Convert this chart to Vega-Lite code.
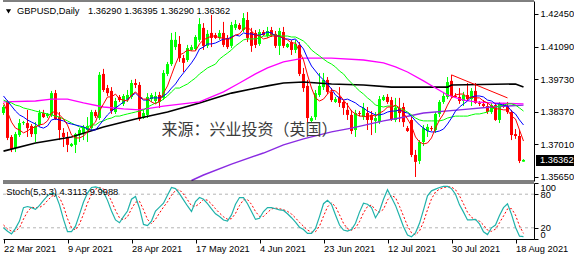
{
"$schema":"https://vega.github.io/schema/vega-lite/v6.json",
"width":531,"height":239,"padding":0,"background":"white",
"config":{"view":{"stroke":null},"font":"Liberation Sans","axis":{"labelFont":"Liberation Sans","labelFontSize":9.3,"labelColor":"#000000","tickColor":"#000000","domainColor":"#000000","grid":false,"title":null}},
"datasets":{
"bars":[
{"i":0,"o":1.3832,"h":1.3865,"l":1.3824,"c":1.3857,"m5":1.3874,"m10":1.3903,"m20":1.3886,"k":20,"d":25},
{"i":1,"o":1.3878,"h":1.3886,"l":1.3719,"c":1.3728,"m5":1.3836,"m10":1.3882,"m20":1.3878,"k":14,"d":18},
{"i":2,"o":1.3732,"h":1.3740,"l":1.3669,"c":1.3682,"m5":1.3794,"m10":1.3861,"m20":1.3874,"k":9,"d":14},
{"i":3,"o":1.3686,"h":1.3753,"l":1.3669,"c":1.3744,"m5":1.3769,"m10":1.3840,"m20":1.3865,"k":19,"d":14},
{"i":4,"o":1.3740,"h":1.3807,"l":1.3732,"c":1.3790,"m5":1.3761,"m10":1.3824,"m20":1.3861,"k":32,"d":20},
{"i":5,"o":1.3790,"h":1.3799,"l":1.3782,"c":1.3794,"m5":1.3749,"m10":1.3815,"m20":1.3853,"k":56,"d":35.7},
{"i":6,"o":1.3790,"h":1.3845,"l":1.3732,"c":1.3769,"m5":1.3757,"m10":1.3803,"m20":1.3849,"k":58,"d":48.7},
{"i":7,"o":1.3778,"h":1.3786,"l":1.3732,"c":1.3744,"m5":1.3769,"m10":1.3794,"m20":1.3845,"k":56,"d":56.7},
{"i":8,"o":1.3744,"h":1.3794,"l":1.3711,"c":1.3778,"m5":1.3774,"m10":1.3786,"m20":1.3840,"k":53,"d":55.7},
{"i":9,"o":1.3782,"h":1.3845,"l":1.3774,"c":1.3832,"m5":1.3782,"m10":1.3774,"m20":1.3836,"k":60,"d":56.3},
{"i":10,"o":1.3832,"h":1.3845,"l":1.3811,"c":1.3815,"m5":1.3786,"m10":1.3769,"m20":1.3832,"k":69,"d":60.7},
{"i":11,"o":1.3819,"h":1.3832,"l":1.3811,"c":1.3828,"m5":1.3799,"m10":1.3778,"m20":1.3828,"k":77,"d":68.7},
{"i":12,"o":1.3824,"h":1.3924,"l":1.3815,"c":1.3915,"m5":1.3832,"m10":1.3803,"m20":1.3824,"k":82,"d":76},
{"i":13,"o":1.3915,"h":1.3928,"l":1.3803,"c":1.3807,"m5":1.3840,"m10":1.3807,"m20":1.3819,"k":80,"d":79.7},
{"i":14,"o":1.3815,"h":1.3836,"l":1.3719,"c":1.3761,"m5":1.3824,"m10":1.3803,"m20":1.3815,"k":61,"d":74.3},
{"i":15,"o":1.3749,"h":1.3769,"l":1.3690,"c":1.3732,"m5":1.3807,"m10":1.3799,"m20":1.3807,"k":35,"d":58.7},
{"i":16,"o":1.3732,"h":1.3753,"l":1.3669,"c":1.3699,"m5":1.3782,"m10":1.3790,"m20":1.3799,"k":13,"d":36.3},
{"i":17,"o":1.3694,"h":1.3707,"l":1.3690,"c":1.3703,"m5":1.3740,"m10":1.3786,"m20":1.3790,"k":13,"d":20.3},
{"i":18,"o":1.3699,"h":1.3749,"l":1.3665,"c":1.3744,"m5":1.3728,"m10":1.3782,"m20":1.3782,"k":23,"d":16.3},
{"i":19,"o":1.3740,"h":1.3769,"l":1.3711,"c":1.3761,"m5":1.3728,"m10":1.3778,"m20":1.3774,"k":44,"d":26.7},
{"i":20,"o":1.3749,"h":1.3782,"l":1.3719,"c":1.3774,"m5":1.3736,"m10":1.3774,"m20":1.3769,"k":66,"d":44.3},
{"i":21,"o":1.3761,"h":1.3815,"l":1.3711,"c":1.3778,"m5":1.3753,"m10":1.3765,"m20":1.3774,"k":82,"d":64},
{"i":22,"o":1.3769,"h":1.3845,"l":1.3757,"c":1.3836,"m5":1.3778,"m10":1.3761,"m20":1.3782,"k":92,"d":80},
{"i":23,"o":1.3836,"h":1.3845,"l":1.3811,"c":1.3819,"m5":1.3794,"m10":1.3761,"m20":1.3782,"k":93,"d":89},
{"i":24,"o":1.3811,"h":1.4003,"l":1.3803,"c":1.3991,"m5":1.3840,"m10":1.3782,"m20":1.3794,"k":91,"d":92},
{"i":25,"o":1.3995,"h":1.4016,"l":1.3920,"c":1.3928,"m5":1.3870,"m10":1.3803,"m20":1.3799,"k":84,"d":89.3},
{"i":26,"o":1.3936,"h":1.3949,"l":1.3903,"c":1.3915,"m5":1.3899,"m10":1.3824,"m20":1.3807,"k":69,"d":81.3},
{"i":27,"o":1.3924,"h":1.3940,"l":1.3828,"c":1.3840,"m5":1.3899,"m10":1.3840,"m20":1.3811,"k":50,"d":67.7},
{"i":28,"o":1.3836,"h":1.3895,"l":1.3828,"c":1.3882,"m5":1.3911,"m10":1.3853,"m20":1.3819,"k":34,"d":51},
{"i":29,"o":1.3899,"h":1.3907,"l":1.3878,"c":1.3886,"m5":1.3890,"m10":1.3865,"m20":1.3819,"k":29,"d":37.7},
{"i":30,"o":1.3870,"h":1.3911,"l":1.3861,"c":1.3903,"m5":1.3886,"m10":1.3878,"m20":1.3824,"k":40,"d":34.3},
{"i":31,"o":1.3890,"h":1.3928,"l":1.3878,"c":1.3907,"m5":1.3882,"m10":1.3890,"m20":1.3828,"k":50,"d":39.7},
{"i":32,"o":1.3899,"h":1.3970,"l":1.3890,"c":1.3957,"m5":1.3907,"m10":1.3903,"m20":1.3832,"k":71,"d":53.7},
{"i":33,"o":1.3957,"h":1.3974,"l":1.3936,"c":1.3949,"m5":1.3920,"m10":1.3915,"m20":1.3836,"k":76,"d":65.7},
{"i":34,"o":1.3949,"h":1.3961,"l":1.3799,"c":1.3807,"m5":1.3903,"m10":1.3899,"m20":1.3840,"k":55,"d":67.3},
{"i":35,"o":1.3811,"h":1.3845,"l":1.3807,"c":1.3832,"m5":1.3890,"m10":1.3886,"m20":1.3845,"k":26,"d":52.3},
{"i":36,"o":1.3824,"h":1.3915,"l":1.3811,"c":1.3899,"m5":1.3890,"m10":1.3886,"m20":1.3857,"k":24,"d":35},
{"i":37,"o":1.3890,"h":1.3915,"l":1.3878,"c":1.3907,"m5":1.3878,"m10":1.3895,"m20":1.3865,"k":32,"d":27.3},
{"i":38,"o":1.3882,"h":1.3920,"l":1.3870,"c":1.3903,"m5":1.3870,"m10":1.3895,"m20":1.3874,"k":50,"d":35.3},
{"i":39,"o":1.3907,"h":1.3920,"l":1.3853,"c":1.3878,"m5":1.3882,"m10":1.3895,"m20":1.3878,"k":57,"d":46.3},
{"i":40,"o":1.3895,"h":1.4011,"l":1.3886,"c":1.3999,"m5":1.3915,"m10":1.3903,"m20":1.3890,"k":64,"d":57},
{"i":41,"o":1.3995,"h":1.4045,"l":1.3986,"c":1.4036,"m5":1.3945,"m10":1.3915,"m20":1.3903,"k":78,"d":66.3},
{"i":42,"o":1.4036,"h":1.4166,"l":1.4028,"c":1.4137,"m5":1.3991,"m10":1.3936,"m20":1.3920,"k":92,"d":78},
{"i":43,"o":1.4107,"h":1.4170,"l":1.4095,"c":1.4137,"m5":1.4036,"m10":1.3953,"m20":1.3936,"k":90,"d":86.7},
{"i":44,"o":1.4120,"h":1.4153,"l":1.4045,"c":1.4061,"m5":1.4074,"m10":1.3978,"m20":1.3936,"k":81,"d":87.7},
{"i":45,"o":1.4061,"h":1.4074,"l":1.4003,"c":1.4041,"m5":1.4082,"m10":1.3999,"m20":1.3945,"k":70,"d":80.3},
{"i":46,"o":1.4053,"h":1.4116,"l":1.4045,"c":1.4103,"m5":1.4095,"m10":1.4020,"m20":1.3953,"k":59,"d":70},
{"i":47,"o":1.4095,"h":1.4116,"l":1.4091,"c":1.4107,"m5":1.4091,"m10":1.4041,"m20":1.3966,"k":49,"d":59.3},
{"i":48,"o":1.4099,"h":1.4157,"l":1.4091,"c":1.4149,"m5":1.4091,"m10":1.4066,"m20":1.3978,"k":67,"d":58.3},
{"i":49,"o":1.4137,"h":1.4228,"l":1.4128,"c":1.4203,"m5":1.4120,"m10":1.4099,"m20":1.3995,"k":74,"d":63.3},
{"i":50,"o":1.4187,"h":1.4207,"l":1.4095,"c":1.4112,"m5":1.4137,"m10":1.4107,"m20":1.4007,"k":71,"d":70.7},
{"i":51,"o":1.4112,"h":1.4178,"l":1.4103,"c":1.4162,"m5":1.4145,"m10":1.4120,"m20":1.4020,"k":63,"d":69.3},
{"i":52,"o":1.4166,"h":1.4241,"l":1.4107,"c":1.4145,"m5":1.4153,"m10":1.4120,"m20":1.4028,"k":54,"d":62.7},
{"i":53,"o":1.4157,"h":1.4166,"l":1.4141,"c":1.4145,"m5":1.4153,"m10":1.4124,"m20":1.4036,"k":45,"d":54},
{"i":54,"o":1.4145,"h":1.4178,"l":1.4137,"c":1.4166,"m5":1.4145,"m10":1.4132,"m20":1.4057,"k":40,"d":46.3},
{"i":55,"o":1.4166,"h":1.4212,"l":1.4107,"c":1.4116,"m5":1.4145,"m10":1.4141,"m20":1.4070,"k":34,"d":39.7},
{"i":56,"o":1.4145,"h":1.4157,"l":1.4099,"c":1.4107,"m5":1.4137,"m10":1.4141,"m20":1.4082,"k":32,"d":35.3},
{"i":57,"o":1.4112,"h":1.4212,"l":1.4103,"c":1.4199,"m5":1.4145,"m10":1.4149,"m20":1.4095,"k":43,"d":36.3},
{"i":58,"o":1.4187,"h":1.4220,"l":1.4178,"c":1.4203,"m5":1.4157,"m10":1.4157,"m20":1.4112,"k":62,"d":45.7},
{"i":59,"o":1.4199,"h":1.4207,"l":1.4178,"c":1.4182,"m5":1.4162,"m10":1.4153,"m20":1.4124,"k":74,"d":59.7},
{"i":60,"o":1.4178,"h":1.4249,"l":1.4170,"c":1.4228,"m5":1.4182,"m10":1.4166,"m20":1.4137,"k":74,"d":70},
{"i":61,"o":1.4220,"h":1.4253,"l":1.4128,"c":1.4145,"m5":1.4191,"m10":1.4162,"m20":1.4141,"k":63,"d":70.3},
{"i":62,"o":1.4170,"h":1.4187,"l":1.4087,"c":1.4112,"m5":1.4174,"m10":1.4162,"m20":1.4141,"k":49,"d":62},
{"i":63,"o":1.4166,"h":1.4178,"l":1.4103,"c":1.4116,"m5":1.4157,"m10":1.4157,"m20":1.4141,"k":35,"d":49},
{"i":64,"o":1.4120,"h":1.4182,"l":1.4112,"c":1.4170,"m5":1.4153,"m10":1.4157,"m20":1.4145,"k":37,"d":40.3},
{"i":65,"o":1.4170,"h":1.4178,"l":1.4153,"c":1.4157,"m5":1.4141,"m10":1.4162,"m20":1.4153,"k":49,"d":40.3},
{"i":66,"o":1.4153,"h":1.4191,"l":1.4145,"c":1.4174,"m5":1.4145,"m10":1.4170,"m20":1.4153,"k":56,"d":47.3},
{"i":67,"o":1.4178,"h":1.4191,"l":1.4149,"c":1.4157,"m5":1.4153,"m10":1.4166,"m20":1.4157,"k":56,"d":53.7},
{"i":68,"o":1.4162,"h":1.4174,"l":1.4103,"c":1.4112,"m5":1.4153,"m10":1.4153,"m20":1.4157,"k":54,"d":55.3},
{"i":69,"o":1.4112,"h":1.4187,"l":1.4074,"c":1.4174,"m5":1.4153,"m10":1.4153,"m20":1.4153,"k":52,"d":54},
{"i":70,"o":1.4170,"h":1.4191,"l":1.4103,"c":1.4112,"m5":1.4145,"m10":1.4141,"m20":1.4153,"k":51,"d":52.3},
{"i":71,"o":1.4107,"h":1.4124,"l":1.4103,"c":1.4120,"m5":1.4137,"m10":1.4141,"m20":1.4153,"k":45,"d":49.3},
{"i":72,"o":1.4128,"h":1.4137,"l":1.4074,"c":1.4095,"m5":1.4124,"m10":1.4137,"m20":1.4149,"k":38,"d":44.7},
{"i":73,"o":1.4095,"h":1.4137,"l":1.4082,"c":1.4120,"m5":1.4124,"m10":1.4141,"m20":1.4149,"k":30,"d":37.7},
{"i":74,"o":1.4116,"h":1.4128,"l":1.3986,"c":1.3995,"m5":1.4087,"m10":1.4120,"m20":1.4141,"k":21,"d":29.7},
{"i":75,"o":1.3995,"h":1.4020,"l":1.3920,"c":1.3936,"m5":1.4053,"m10":1.4099,"m20":1.4132,"k":17,"d":22.7},
{"i":76,"o":1.3945,"h":1.3970,"l":1.3794,"c":1.3811,"m5":1.3991,"m10":1.4061,"m20":1.4116,"k":10,"d":16},
{"i":77,"o":1.3799,"h":1.3819,"l":1.3790,"c":1.3811,"m5":1.3936,"m10":1.4028,"m20":1.4095,"k":10,"d":12.3},
{"i":78,"o":1.3815,"h":1.3928,"l":1.3803,"c":1.3915,"m5":1.3895,"m10":1.4007,"m20":1.4082,"k":19,"d":13},
{"i":79,"o":1.3907,"h":1.3999,"l":1.3899,"c":1.3945,"m5":1.3882,"m10":1.3986,"m20":1.4070,"k":40,"d":23},
{"i":80,"o":1.3940,"h":1.3999,"l":1.3928,"c":1.3970,"m5":1.3890,"m10":1.3970,"m20":1.4057,"k":63,"d":40.7},
{"i":81,"o":1.3970,"h":1.3982,"l":1.3911,"c":1.3920,"m5":1.3911,"m10":1.3953,"m20":1.4045,"k":69,"d":57.3},
{"i":82,"o":1.3920,"h":1.3936,"l":1.3878,"c":1.3886,"m5":1.3928,"m10":1.3932,"m20":1.4036,"k":62,"d":64.7},
{"i":83,"o":1.3878,"h":1.3899,"l":1.3874,"c":1.3890,"m5":1.3924,"m10":1.3907,"m20":1.4024,"k":43,"d":58},
{"i":84,"o":1.3899,"h":1.3940,"l":1.3857,"c":1.3874,"m5":1.3907,"m10":1.3895,"m20":1.4007,"k":25,"d":43.3},
{"i":85,"o":1.3878,"h":1.3886,"l":1.3824,"c":1.3853,"m5":1.3886,"m10":1.3886,"m20":1.3995,"k":16,"d":28},
{"i":86,"o":1.3845,"h":1.3874,"l":1.3803,"c":1.3824,"m5":1.3865,"m10":1.3890,"m20":1.3974,"k":14,"d":18.3},
{"i":87,"o":1.3824,"h":1.3845,"l":1.3744,"c":1.3757,"m5":1.3840,"m10":1.3882,"m20":1.3957,"k":17,"d":15.7},
{"i":88,"o":1.3761,"h":1.3845,"l":1.3732,"c":1.3832,"m5":1.3828,"m10":1.3874,"m20":1.3940,"k":28,"d":19.7},
{"i":89,"o":1.3832,"h":1.3840,"l":1.3819,"c":1.3828,"m5":1.3819,"m10":1.3861,"m20":1.3924,"k":48,"d":31},
{"i":90,"o":1.3815,"h":1.3874,"l":1.3803,"c":1.3853,"m5":1.3819,"m10":1.3853,"m20":1.3911,"k":64,"d":46.7},
{"i":91,"o":1.3832,"h":1.3857,"l":1.3761,"c":1.3803,"m5":1.3815,"m10":1.3840,"m20":1.3895,"k":62,"d":58},
{"i":92,"o":1.3824,"h":1.3840,"l":1.3740,"c":1.3803,"m5":1.3824,"m10":1.3832,"m20":1.3882,"k":56,"d":60.7},
{"i":93,"o":1.3799,"h":1.3836,"l":1.3749,"c":1.3811,"m5":1.3819,"m10":1.3824,"m20":1.3865,"k":38,"d":52},
{"i":94,"o":1.3794,"h":1.3903,"l":1.3786,"c":1.3890,"m5":1.3832,"m10":1.3824,"m20":1.3861,"k":50,"d":48},
{"i":95,"o":1.3886,"h":1.3907,"l":1.3882,"c":1.3899,"m5":1.3840,"m10":1.3828,"m20":1.3857,"k":71,"d":53},
{"i":96,"o":1.3899,"h":1.3911,"l":1.3870,"c":1.3878,"m5":1.3857,"m10":1.3836,"m20":1.3861,"k":88,"d":69.7},
{"i":97,"o":1.3886,"h":1.3899,"l":1.3799,"c":1.3807,"m5":1.3857,"m10":1.3840,"m20":1.3861,"k":74,"d":77.7},
{"i":98,"o":1.3803,"h":1.3895,"l":1.3794,"c":1.3853,"m5":1.3865,"m10":1.3840,"m20":1.3857,"k":60,"d":74},
{"i":99,"o":1.3853,"h":1.3895,"l":1.3794,"c":1.3832,"m5":1.3853,"m10":1.3845,"m20":1.3853,"k":41,"d":58.3},
{"i":100,"o":1.3857,"h":1.3874,"l":1.3774,"c":1.3794,"m5":1.3832,"m10":1.3836,"m20":1.3845,"k":22,"d":41},
{"i":101,"o":1.3769,"h":1.3778,"l":1.3753,"c":1.3757,"m5":1.3807,"m10":1.3832,"m20":1.3836,"k":7,"d":23.3},
{"i":102,"o":1.3803,"h":1.3815,"l":1.3648,"c":1.3657,"m5":1.3778,"m10":1.3819,"m20":1.3824,"k":4,"d":11},
{"i":103,"o":1.3657,"h":1.3678,"l":1.3565,"c":1.3628,"m5":1.3732,"m10":1.3799,"m20":1.3811,"k":11,"d":7.3},
{"i":104,"o":1.3632,"h":1.3719,"l":1.3619,"c":1.3711,"m5":1.3711,"m10":1.3782,"m20":1.3803,"k":28,"d":14.3},
{"i":105,"o":1.3711,"h":1.3782,"l":1.3694,"c":1.3769,"m5":1.3703,"m10":1.3769,"m20":1.3799,"k":52,"d":30.3},
{"i":106,"o":1.3757,"h":1.3786,"l":1.3732,"c":1.3774,"m5":1.3707,"m10":1.3757,"m20":1.3799,"k":77,"d":52.3},
{"i":107,"o":1.3769,"h":1.3778,"l":1.3757,"c":1.3765,"m5":1.3728,"m10":1.3753,"m20":1.3799,"k":86,"d":71.7},
{"i":108,"o":1.3761,"h":1.3836,"l":1.3749,"c":1.3828,"m5":1.3769,"m10":1.3753,"m20":1.3799,"k":89,"d":84},
{"i":109,"o":1.3828,"h":1.3886,"l":1.3815,"c":1.3878,"m5":1.3803,"m10":1.3757,"m20":1.3799,"k":92,"d":89},
{"i":110,"o":1.3878,"h":1.3920,"l":1.3870,"c":1.3903,"m5":1.3828,"m10":1.3765,"m20":1.3803,"k":94,"d":91.7},
{"i":111,"o":1.3899,"h":1.3982,"l":1.3890,"c":1.3961,"m5":1.3865,"m10":1.3786,"m20":1.3811,"k":94,"d":93.3},
{"i":112,"o":1.3966,"h":1.3991,"l":1.3895,"c":1.3903,"m5":1.3895,"m10":1.3811,"m20":1.3815,"k":90,"d":92.7},
{"i":113,"o":1.3903,"h":1.3915,"l":1.3895,"c":1.3899,"m5":1.3907,"m10":1.3840,"m20":1.3819,"k":80,"d":88},
{"i":114,"o":1.3899,"h":1.3936,"l":1.3870,"c":1.3882,"m5":1.3911,"m10":1.3857,"m20":1.3819,"k":61,"d":77},
{"i":115,"o":1.3882,"h":1.3920,"l":1.3861,"c":1.3907,"m5":1.3911,"m10":1.3870,"m20":1.3819,"k":48,"d":63},
{"i":116,"o":1.3907,"h":1.3957,"l":1.3886,"c":1.3890,"m5":1.3895,"m10":1.3882,"m20":1.3819,"k":34,"d":47.7},
{"i":117,"o":1.3890,"h":1.3936,"l":1.3861,"c":1.3924,"m5":1.3899,"m10":1.3899,"m20":1.3824,"k":34,"d":38.7},
{"i":118,"o":1.3924,"h":1.3957,"l":1.3870,"c":1.3874,"m5":1.3895,"m10":1.3903,"m20":1.3828,"k":35,"d":34.3},
{"i":119,"o":1.3874,"h":1.3882,"l":1.3861,"c":1.3870,"m5":1.3895,"m10":1.3903,"m20":1.3828,"k":27,"d":32},
{"i":120,"o":1.3870,"h":1.3886,"l":1.3853,"c":1.3861,"m5":1.3882,"m10":1.3899,"m20":1.3832,"k":13,"d":25},
{"i":121,"o":1.3861,"h":1.3878,"l":1.3828,"c":1.3836,"m5":1.3874,"m10":1.3886,"m20":1.3836,"k":8,"d":16},
{"i":122,"o":1.3836,"h":1.3874,"l":1.3828,"c":1.3865,"m5":1.3861,"m10":1.3882,"m20":1.3845,"k":20,"d":13.7},
{"i":123,"o":1.3865,"h":1.3874,"l":1.3799,"c":1.3803,"m5":1.3849,"m10":1.3870,"m20":1.3857,"k":25,"d":17.7},
{"i":124,"o":1.3803,"h":1.3878,"l":1.3790,"c":1.3870,"m5":1.3849,"m10":1.3870,"m20":1.3861,"k":42,"d":29},
{"i":125,"o":1.3865,"h":1.3874,"l":1.3853,"c":1.3857,"m5":1.3845,"m10":1.3865,"m20":1.3865,"k":56,"d":41},
{"i":126,"o":1.3861,"h":1.3878,"l":1.3828,"c":1.3836,"m5":1.3845,"m10":1.3861,"m20":1.3870,"k":63,"d":53.7},
{"i":127,"o":1.3836,"h":1.3845,"l":1.3719,"c":1.3740,"m5":1.3819,"m10":1.3840,"m20":1.3870,"k":44,"d":54.3},
{"i":128,"o":1.3744,"h":1.3765,"l":1.3724,"c":1.3736,"m5":1.3807,"m10":1.3828,"m20":1.3865,"k":21,"d":42.7},
{"i":129,"o":1.3736,"h":1.3761,"l":1.3623,"c":1.3632,"m5":1.3761,"m10":1.3803,"m20":1.3853,"k":5,"d":23.3},
{"i":130,"o":1.3629,"h":1.36395,"l":1.3629,"c":1.36362,"m5":1.3715,"m10":1.3782,"m20":1.3840,"k":4.3113,"d":9.9988}
],
"ma60":[
{"i":0,"v":1.3878},{"i":8,"v":1.3882},{"i":12,"v":1.3890},{"i":16,"v":1.3890},{"i":20,"v":1.3874},{"i":25,"v":1.3857},{"i":30,"v":1.3849},{"i":34,"v":1.3845},{"i":40,"v":1.3861},{"i":49,"v":1.3878},{"i":55,"v":1.3920},{"i":59,"v":1.3957},{"i":63,"v":1.3995},{"i":66,"v":1.4020},{"i":70,"v":1.4045},{"i":75,"v":1.4061},{"i":82,"v":1.4061},{"i":90,"v":1.4053},{"i":95,"v":1.4041},{"i":98,"v":1.4024},{"i":101,"v":1.4003},{"i":105,"v":1.3966},{"i":108,"v":1.3936},{"i":111,"v":1.3907},{"i":115,"v":1.3886},{"i":118,"v":1.3878},{"i":122,"v":1.3874},{"i":130,"v":1.3870}
],
"ma120":[
{"i":0,"v":1.3673},{"i":8,"v":1.3707},{"i":17,"v":1.3732},{"i":25,"v":1.3774},{"i":33,"v":1.3807},{"i":41,"v":1.3836},{"i":49,"v":1.3874},{"i":57,"v":1.3915},{"i":62,"v":1.3932},{"i":66,"v":1.3945},{"i":70,"v":1.3957},{"i":75,"v":1.3961},{"i":82,"v":1.3953},{"i":90,"v":1.3949},{"i":97,"v":1.3940},{"i":111,"v":1.3940},{"i":112,"v":1.3949},{"i":128,"v":1.3953},{"i":130,"v":1.3940}
],
"ma200":[
{"i":47,"v":1.35504},{"i":50,"v":1.35733},{"i":57,"v":1.3619},{"i":65,"v":1.3665},{"i":70,"v":1.3699},{"i":75,"v":1.3724},{"i":82,"v":1.3753},{"i":87,"v":1.3769},{"i":95,"v":1.3799},{"i":99,"v":1.3811},{"i":105,"v":1.3832},{"i":114,"v":1.3845},{"i":122,"v":1.3857},{"i":130,"v":1.3865}
],
"trend":[{"i":112,"v":1.3991},{"i":126,"v":1.3895}],
"levels":[{"v":20},{"v":80}]
},
"layer":[
{"layer":[
{"data":{"name":"bars"},"mark":{"type":"rule","strokeWidth":1},
 "encoding":{"x":{"field":"i","type":"quantitative","title":null,"scale":{"domain":[-0.125,132.625],"nice":false,"zero":false},
  "axis":{"orient":"bottom","values":[0,16,32,48,64,80,96,112,128],"labelExpr":"datum.value == 0 ? '22 Mar 2021' : datum.value == 16 ? '9 Apr 2021' : datum.value == 32 ? '28 Apr 2021' : datum.value == 48 ? '17 May 2021' : datum.value == 64 ? '4 Jun 2021' : datum.value == 80 ? '23 Jun 2021' : datum.value == 96 ? '12 Jul 2021' : datum.value == 112 ? '30 Jul 2021' : '18 Aug 2021'","labelAlign":"left","labelBaseline":"top","labelPadding":1,"tickSize":4,"domain":true,"title":null,"labelOverlap":false,"labelFlush":false,"labelBound":false}},
 "y":{"field":"l","type":"quantitative","title":null,"scale":{"domain":[1.35483,1.42992],"range":[181,1],"nice":false,"zero":false},
  "axis":{"orient":"right","values":[1.3565,1.3701,1.3837,1.3973,1.4109,1.4245],"format":".5f","tickSize":4,"labelPadding":2,"domain":true,"title":null,"labelOverlap":false,"labelBound":false,"labelFlush":false}},
 "y2":{"field":"h"},
 "color":{"condition":{"test":"datum.c >= datum.o","value":"#00ff00"},"value":"#ff0000"}}},
{"data":{"name":"bars"},"mark":{"type":"rule","strokeWidth":3},
 "encoding":{"x":{"field":"i","type":"quantitative","title":null,"scale":{"domain":[-0.125,132.625],"nice":false,"zero":false}},
 "y":{"field":"o","type":"quantitative","title":null,"scale":{"domain":[1.35483,1.42992],"range":[181,1],"nice":false,"zero":false}},
 "y2":{"field":"c"},
 "color":{"condition":{"test":"datum.c >= datum.o","value":"#00ff00"},"value":"#ff0000"}}},
{"data":{"name":"ma200"},"mark":{"type":"line","color":"#8a2be2","strokeWidth":1.4},
 "encoding":{"x":{"field":"i","type":"quantitative","title":null,"scale":{"domain":[-0.125,132.625],"nice":false,"zero":false}},
 "y":{"field":"v","type":"quantitative","title":null,"scale":{"domain":[1.35483,1.42992],"range":[181,1],"nice":false,"zero":false}}}},
{"data":{"name":"ma120"},"mark":{"type":"line","color":"#000000","strokeWidth":1.6},
 "encoding":{"x":{"field":"i","type":"quantitative","title":null,"scale":{"domain":[-0.125,132.625],"nice":false,"zero":false}},
 "y":{"field":"v","type":"quantitative","title":null,"scale":{"domain":[1.35483,1.42992],"range":[181,1],"nice":false,"zero":false}}}},
{"data":{"name":"ma60"},"mark":{"type":"line","color":"#ff00ff","strokeWidth":1.3},
 "encoding":{"x":{"field":"i","type":"quantitative","title":null,"scale":{"domain":[-0.125,132.625],"nice":false,"zero":false}},
 "y":{"field":"v","type":"quantitative","title":null,"scale":{"domain":[1.35483,1.42992],"range":[181,1],"nice":false,"zero":false}}}},
{"data":{"name":"bars"},"mark":{"type":"line","color":"#00ff00","strokeWidth":1},
 "encoding":{"x":{"field":"i","type":"quantitative","title":null,"scale":{"domain":[-0.125,132.625],"nice":false,"zero":false}},
 "y":{"field":"m20","type":"quantitative","title":null,"scale":{"domain":[1.35483,1.42992],"range":[181,1],"nice":false,"zero":false}}}},
{"data":{"name":"bars"},"mark":{"type":"line","color":"#0000ff","strokeWidth":1},
 "encoding":{"x":{"field":"i","type":"quantitative","title":null,"scale":{"domain":[-0.125,132.625],"nice":false,"zero":false}},
 "y":{"field":"m10","type":"quantitative","title":null,"scale":{"domain":[1.35483,1.42992],"range":[181,1],"nice":false,"zero":false}}}},
{"data":{"name":"bars"},"mark":{"type":"line","color":"#ff0000","strokeWidth":1},
 "encoding":{"x":{"field":"i","type":"quantitative","title":null,"scale":{"domain":[-0.125,132.625],"nice":false,"zero":false}},
 "y":{"field":"m5","type":"quantitative","title":null,"scale":{"domain":[1.35483,1.42992],"range":[181,1],"nice":false,"zero":false}}}},
{"data":{"name":"trend"},"mark":{"type":"line","color":"#ff0000","strokeWidth":1},
 "encoding":{"x":{"field":"i","type":"quantitative","title":null,"scale":{"domain":[-0.125,132.625],"nice":false,"zero":false}},
 "y":{"field":"v","type":"quantitative","title":null,"scale":{"domain":[1.35483,1.42992],"range":[181,1],"nice":false,"zero":false}}}},
{"data":{"values":[{}]},"mark":{"type":"rule","color":"#000000","strokeWidth":1},
 "encoding":{"y":{"datum":1.42992,"type":"quantitative","title":null}}},
{"data":{"values":[{}]},"mark":{"type":"rule","color":"#000000","strokeWidth":1},
 "encoding":{"y":{"datum":1.35483,"type":"quantitative","title":null}}},
{"data":{"values":[{}]},"mark":{"type":"point","shape":"triangle-down","filled":true,"color":"#000000","size":26,"opacity":1},
 "encoding":{"x":{"datum":1.25,"type":"quantitative","title":null},"y":{"datum":1.4256,"type":"quantitative","title":null}}},
{"data":{"values":[{}]},"mark":{"type":"text","align":"left","baseline":"middle","fontSize":9.3,"color":"#000000","font":"Liberation Sans"},
 "encoding":{"x":{"datum":3.375,"type":"quantitative","title":null},"y":{"datum":1.42575,"type":"quantitative","title":null},"text":{"value":"GBPUSD,Daily"}}},
{"data":{"values":[{}]},"mark":{"type":"text","align":"left","baseline":"middle","fontSize":9.3,"color":"#000000","font":"Liberation Sans"},
 "encoding":{"x":{"datum":21.125,"type":"quantitative","title":null},"y":{"datum":1.42575,"type":"quantitative","title":null},"text":{"value":"1.36290 1.36395 1.36290 1.36362"}}},
{"data":{"values":[{}]},"mark":{"type":"text","align":"center","baseline":"middle","fontSize":16,"color":"#3c3c3c","font":"Noto Sans CJK SC"},
 "encoding":{"x":{"datum":61.5,"type":"quantitative","title":null},"y":{"datum":1.3761,"type":"quantitative","title":null},"text":{"value":"来源：兴业投资（英国）"}}},
{"data":{"values":[{}]},"mark":{"type":"rect","color":"#000000"},
 "encoding":{"x":{"datum":133.125,"type":"quantitative","title":null},"x2":{"datum":143.375},"y":{"datum":1.36568,"type":"quantitative","title":null},"y2":{"datum":1.36109}}},
{"data":{"values":[{}]},"mark":{"type":"text","align":"left","baseline":"middle","fontSize":9.3,"color":"#ffffff","font":"Liberation Sans"},
 "encoding":{"x":{"datum":134.125,"type":"quantitative","title":null},"y":{"datum":1.36362,"type":"quantitative","title":null},"text":{"value":"1.36362"}}}
]},
{"layer":[
{"data":{"name":"levels"},"mark":{"type":"rule","color":"#b4b4b4","strokeWidth":1,"strokeDash":[3,3]},
 "encoding":{"y":{"field":"v","type":"quantitative","title":null,"scale":{"domain":[0,100],"range":[239,183],"nice":false,"zero":false},
  "axis":{"orient":"right","values":[0,20,80,100],"format":"d","tickSize":4,"labelPadding":2,"domain":true,"title":null,"labelFlush":true,"labelOverlap":false,"labelBound":false}}}},
{"data":{"values":[{}]},"mark":{"type":"rule","color":"#000000","strokeWidth":1},
 "encoding":{"y":{"datum":100,"type":"quantitative","title":null}}},
{"data":{"name":"bars"},"mark":{"type":"line","color":"#ff0000","strokeWidth":1,"strokeDash":[2,2]},
 "encoding":{"x":{"field":"i","type":"quantitative","title":null,"scale":{"domain":[-0.125,132.625],"nice":false,"zero":false}},
 "y":{"field":"d","type":"quantitative","title":null,"scale":{"domain":[0,100],"range":[239,183],"nice":false,"zero":false}}}},
{"data":{"name":"bars"},"mark":{"type":"line","color":"#20b2aa","strokeWidth":1.2},
 "encoding":{"x":{"field":"i","type":"quantitative","title":null,"scale":{"domain":[-0.125,132.625],"nice":false,"zero":false}},
 "y":{"field":"k","type":"quantitative","title":null,"scale":{"domain":[0,100],"range":[239,183],"nice":false,"zero":false}}}},
{"data":{"values":[{}]},"mark":{"type":"text","align":"left","baseline":"middle","fontSize":9.3,"color":"#000000","font":"Liberation Sans"},
 "encoding":{"x":{"datum":0.7,"type":"quantitative","title":null},"y":{"datum":84.5,"type":"quantitative","title":null},"text":{"value":"Stoch(5,3,3) 4.3113 9.9988"}}}
]}
],
"resolve":{"scale":{"y":"independent"},"axis":{"y":"independent"}}
}
